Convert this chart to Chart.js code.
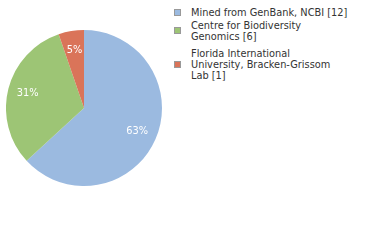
<!DOCTYPE html>
<html lang="en">
<head>
    <meta charset="UTF-8">
    <title>Sample sources</title>
    <script src="https://cdn.jsdelivr.net/npm/chart.js"></script>
    <style>
        body { margin: 0; background: #fff; width: 380px; height: 240px; overflow: hidden; position: relative; }
        .pie { position: absolute; left: 6px; top: 0; width: 156px; height: 216px; }
        .legend { position: absolute; left: 174px; top: 6.5px; font-family: "DejaVu Sans", sans-serif; font-size: 9.8px; line-height: 11px; color: #333; }
        .legend .item { display: flex; align-items: center; }
        .legend .item:nth-child(2) { margin-top: 2px; }
        .legend .item:nth-child(3) { margin-top: 6px; }
        .legend .box { width: 5px; height: 5px; border: 1px solid #999; margin-right: 10px; flex: none; }
    </style>
</head>
<body>
    <div class="pie"><canvas id="sourceChart"></canvas></div>
    <div class="legend" id="legend"></div>

    <script>
        const labels = ['Mined from GenBank, NCBI', 'Centre for Biodiversity Genomics', 'Florida International University, Bracken-Grissom Lab'];
        const legendLines = [['Mined from GenBank, NCBI [12]'], ['Centre for Biodiversity', 'Genomics [6]'], ['Florida International', 'University, Bracken-Grissom', 'Lab [1]']];
        const counts = [12, 6, 1];
        const colors = ['#9bbae0', '#9dc575', '#da7459'];

        // legend on the right
        const legend = document.getElementById('legend');
        legendLines.forEach((lines, i) => {
            const item = document.createElement('div');
            item.className = 'item';
            item.innerHTML = '<span class="box" style="background:' + colors[i] + '"></span><span>' + lines.join('<br>') + '</span>';
            legend.appendChild(item);
        });

        // percent text inside the slices (truncated, like the original)
        const percentLabels = {
            id: 'percentLabels',
            afterDatasetsDraw(chart) {
                const ctx = chart.ctx;
                const total = counts.reduce((a, b) => a + b, 0);
                ctx.save();
                ctx.fillStyle = '#fff';
                ctx.font = '9.8px "DejaVu Sans", sans-serif';
                ctx.textAlign = 'center';
                ctx.textBaseline = 'middle';
                chart.getDatasetMeta(0).data.forEach((arc, i) => {
                    const mid = (arc.startAngle + arc.endAngle) / 2;
                    const r = arc.outerRadius * 0.745;
                    ctx.fillText(Math.floor(counts[i] / total * 100) + '%', arc.x + Math.cos(mid) * r, arc.y + Math.sin(mid) * r);
                });
                ctx.restore();
            }
        };

        new Chart(document.getElementById('sourceChart'), {
            type: 'pie',
            data: {
                labels: labels,
                datasets: [{
                    data: counts,
                    backgroundColor: colors,
                    borderWidth: 0
                }]
            },
            options: {
                responsive: true,
                maintainAspectRatio: false,
                animation: false,
                layout: { padding: 0 },
                plugins: {
                    legend: { display: false },
                    tooltip: { enabled: false }
                }
            },
            plugins: [percentLabels]
        });
    </script>
</body>
</html>
